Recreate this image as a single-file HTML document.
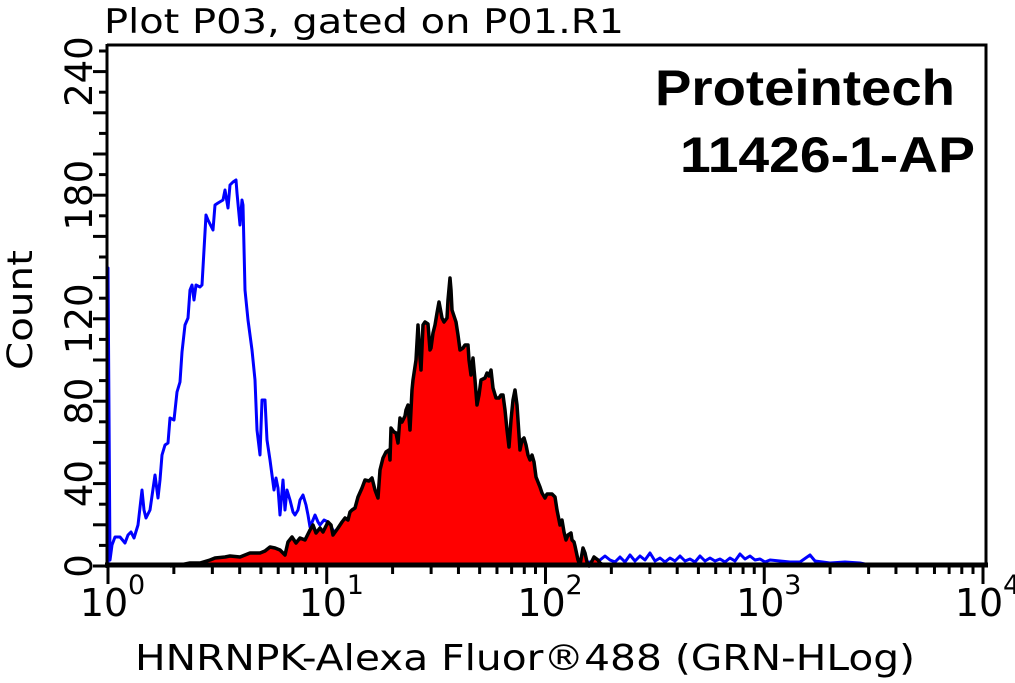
<!DOCTYPE html>
<html><head><meta charset="utf-8"><style>
html,body{margin:0;padding:0;background:#fff;width:1015px;height:683px;overflow:hidden}
text{font-family:"DejaVu Sans","Liberation Sans",sans-serif}
</style></head><body>
<svg id="s" width="1015" height="683" viewBox="0 0 1015 683" xmlns="http://www.w3.org/2000/svg">
<text x="104" y="33" font-size="34" fill="#000" textLength="520" lengthAdjust="spacingAndGlyphs">Plot P03, gated on P01.R1</text>
<text x="655" y="105" font-size="50" font-weight="bold" textLength="300" lengthAdjust="spacingAndGlyphs" style="font-family:'Liberation Sans',sans-serif">Proteintech</text>
<text x="680" y="172" font-size="50" font-weight="bold" textLength="295" lengthAdjust="spacingAndGlyphs" style="font-family:'Liberation Sans',sans-serif">11426-1-AP</text>
<text x="135" y="670" font-size="36" textLength="780" lengthAdjust="spacingAndGlyphs">HNRNPK-Alexa Fluor®488 (GRN-HLog)</text>
<text transform="translate(32,370) rotate(-90)" font-size="35" textLength="120" lengthAdjust="spacingAndGlyphs">Count</text>
<g id="ticks" stroke="#000" stroke-width="3"></g>
<g id="labels" font-size="37"></g>
<polyline id="blu" fill="none" stroke="#0000ff" stroke-width="3" stroke-linejoin="round"/>
<polygon id="red" fill="#ff0000" stroke="none"/>
<polyline id="blk" fill="none" stroke="#000" stroke-width="3.5" stroke-linejoin="round"/>
<path d="M107,45 H986 V566" fill="none" stroke="#000" stroke-width="3"/>
<line x1="107" y1="44" x2="107" y2="568" stroke="#000" stroke-width="3"/>
<line x1="105" y1="565" x2="988" y2="565" stroke="#000" stroke-width="5"/>
</svg>
<script>
var NS="http://www.w3.org/2000/svg";
function el(t,a,p){var e=document.createElementNS(NS,t);for(var k in a)e.setAttribute(k,a[k]);p.appendChild(e);return e;}
var tk=document.getElementById('ticks'),lb=document.getElementById('labels');
for(var c=0;c<=250;c+=10){var y=566-c*2.06;var L=(c%20==0)?14:8;el('line',{x1:107-L,y1:y,x2:107,y2:y},tk);}
[0,40,80,120,180,240].forEach(function(c){var y=566-c*2.06;var t=el('text',{transform:'translate(92,'+y+') rotate(-90)','text-anchor':'middle'},lb);t.textContent=c;});
var x0=108,D=218.75;
for(var d=0;d<4;d++){for(var m=1;m<10;m++){var x=x0+D*(d+Math.log10(m));el('line',{x1:x,y1:566,x2:x,y2:m==1?584:574},tk);}}
el('line',{x1:x0+4*D,y1:566,x2:x0+4*D,y2:584},tk);
for(var d=0;d<=4;d++){var x=x0+D*d;var t=el('text',{x:x-4,y:616,'text-anchor':'middle','font-size':'38'},lb);t.textContent='10';var s=el('text',{x:x+20,y:594,'font-size':'27'},lb);s.textContent=d;}
var blue=[[108,566],[108,268],[110,560],[112,545],[115,537],[120,537],[125,543],[128,535],[131,532],[134,538],[138,525],[142,490],[144,510],[146,518],[150,510],[155,475],[158,498],[160,480],[162,455],[165,445],[168,443],[170,418],[174,420],[177,392],[180,382],[182,352],[185,325],[188,318],[190,290],[192,285],[194,300],[196,285],[200,287],[202,285],[206,215],[208,220],[213,230],[215,205],[218,203],[223,200],[225,190],[228,208],[230,185],[233,182],[236,180],[237,193],[240,225],[242,200],[243,205],[245,290],[248,320],[252,350],[255,380],[257,430],[260,455],[262,400],[265,400],[267,440],[270,460],[274,490],[276,478],[278,488],[280,515],[283,480],[285,510],[287,490],[290,500],[293,512],[295,515],[298,510],[300,500],[303,495],[306,505],[308,515],[310,527],[313,520],[315,515],[318,522],[320,525],[324,520],[328,522],[333,530],[340,545],[350,555],[360,560],[380,563],[420,565],[560,564],[590,562],[600,560],[605,556],[610,560],[615,562],[620,557],[625,562],[630,555],[635,561],[640,556],[645,560],[650,553],[655,561],[660,558],[665,562],[670,558],[675,561],[680,556],[685,561],[690,559],[695,562],[700,556],[705,561],[710,558],[715,561],[720,559],[725,562],[730,558],[735,561],[740,554],[745,559],[750,556],[755,560],[760,559],[765,562],[770,560],[780,561],[790,562],[800,562],[810,555],[815,561],[830,563],[845,562],[860,563],[870,565]];
var black=[[170,566],[180,565],[190,563],[200,563],[210,560],[215,558],[225,557],[230,556],[240,557],[245,555],[250,553],[260,553],[265,551],[270,547],[275,548],[280,550],[285,555],[288,542],[292,537],[296,543],[300,538],[305,540],[310,530],[313,525],[316,533],[320,528],[323,532],[328,522],[331,525],[333,535],[338,528],[342,522],[345,518],[348,520],[350,512],[352,510],[355,508],[358,497],[362,488],[365,480],[369,481],[372,478],[375,490],[378,498],[380,470],[383,458],[386,452],[389,450],[390,460],[391,428],[394,432],[396,433],[398,443],[400,418],[402,422],[405,416],[406,410],[408,405],[410,430],[412,390],[413,380],[416,360],[418,325],[420,358],[421,370],[423,325],[425,322],[428,324],[430,350],[431,348],[433,333],[435,325],[437,313],[439,302],[442,318],[444,322],[447,318],[448,300],[450,278],[451,290],[452,310],[454,316],[456,322],[458,335],[460,350],[463,348],[465,345],[468,345],[469,360],[471,375],[473,358],[475,380],[477,405],[479,395],[481,380],[485,378],[487,373],[489,376],[491,370],[493,388],[496,398],[499,398],[501,395],[503,395],[505,410],[507,430],[509,447],[511,420],[513,400],[515,390],[517,405],[519,435],[520,450],[522,440],[524,438],[526,445],[528,455],[530,460],[532,455],[534,462],[536,477],[540,487],[542,493],[545,498],[547,494],[552,494],[555,497],[557,510],[560,525],[562,520],[564,532],[566,540],[568,535],[571,533],[572,540],[574,542],[575,546],[578,560],[580,565],[583,548],[585,553],[587,562],[589,566],[591,563],[594,557],[598,560],[600,563],[605,566]];
function pts(a){return a.map(function(p){return p[0]+','+p[1]}).join(' ');}
document.getElementById('blu').setAttribute('points',pts(blue));
document.getElementById('blk').setAttribute('points',pts(black));
document.getElementById('red').setAttribute('points',pts(black)+' 605,566 170,566');
</script>
</body></html>
